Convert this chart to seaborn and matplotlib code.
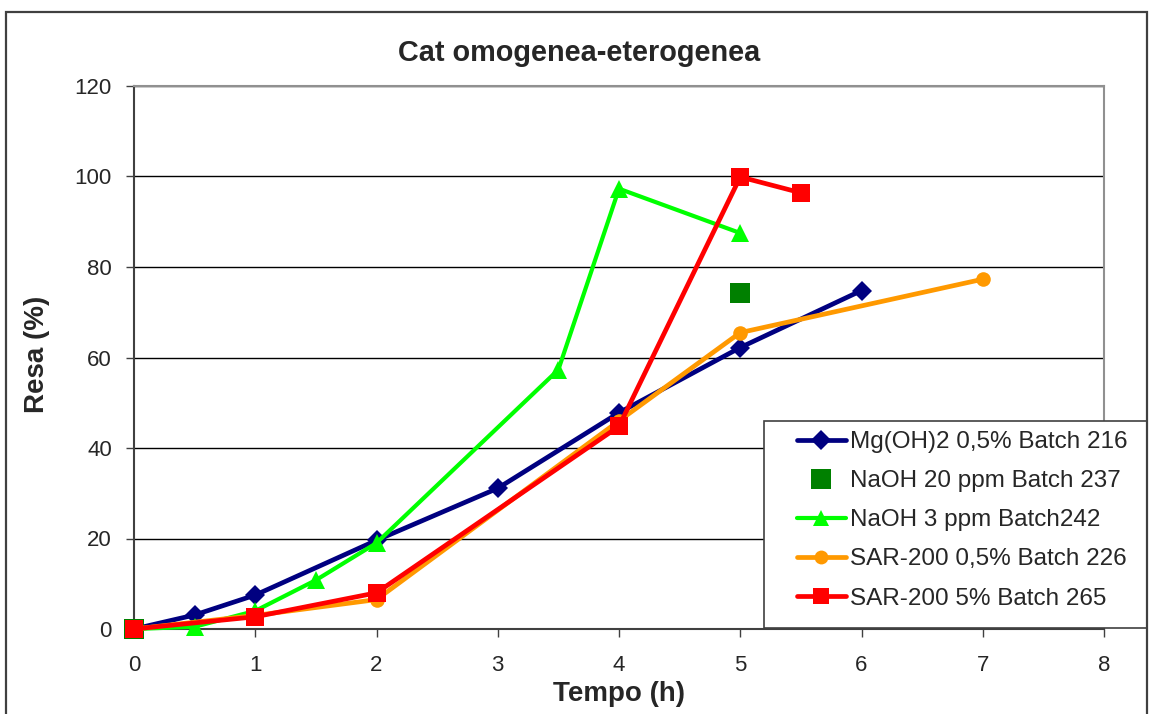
import matplotlib
matplotlib.use("Agg")
import matplotlib.pyplot as plt
import seaborn as sns
import pandas as pd
from matplotlib.lines import Line2D

# Reaction yield over time for each catalyst batch
mg_t = [0, 0.5, 1, 2, 3, 4, 5, 6]
mg_y = [0, 3.1, 7.5, 19.6, 31.1, 47.8, 62.2, 74.8]

naoh20_t = [0, 5]
naoh20_y = [0, 74.3]

naoh3_t = [0, 0.5, 1, 1.5, 2, 3.5, 4, 5]
naoh3_y = [0, 0.5, 4.0, 10.8, 19.0, 57.3, 97.3, 87.5]

sar05_t = [0, 1, 2, 4, 5, 7]
sar05_y = [0, 3.0, 6.5, 46.0, 65.5, 77.3]

sar5_t = [0, 1, 2, 4, 5, 5.5]
sar5_y = [0, 2.7, 8.0, 44.8, 99.9, 96.4]

labels = ["Mg(OH)2 0,5% Batch 216", "NaOH 20 ppm Batch 237", "NaOH 3 ppm Batch242",
          "SAR-200 0,5% Batch 226", "SAR-200 5% Batch 265"]
x_ticks = [0, 1, 2, 3, 4, 5, 6, 7, 8]
y_ticks = [0, 20, 40, 60, 80, 100, 120]

sns.set_theme(style="white")
plt.rcParams["font.family"] = ["Liberation Sans", "DejaVu Sans"]

W, H = 1149, 714
fig = plt.figure(figsize=(W / 100, H / 100), dpi=100)
ax = fig.add_axes([134 / W, (H - 629) / H, 970 / W, 543 / H])

# outer chart frame
frame = plt.Rectangle((6 / W, -0.05), (1147 - 6) / W, (H - 12) / H + 0.05,
                      transform=fig.transFigure, fill=False, edgecolor="#404040",
                      linewidth=1.6, zorder=0)
fig.patches.append(frame)

styles = [
    dict(color="#000080", marker="D", markersize=10.5, linewidth=3.4),
    dict(color="#008000", marker="s", markersize=15, linewidth=0),
    dict(color="#00FF00", marker="^", markersize=12.5, linewidth=3),
    dict(color="#FF9900", marker="o", markersize=10.5, linewidth=3.4),
    dict(color="#FF0000", marker="s", markersize=12.8, linewidth=3.4),
]
series = [(mg_t, mg_y), (naoh20_t, naoh20_y), (naoh3_t, naoh3_y),
          (sar05_t, sar05_y), (sar5_t, sar5_y)]

for i, ((t, y), st) in enumerate(zip(series, styles)):
    df = pd.DataFrame({"t": t, "y": y})
    if st["linewidth"] == 0:
        sns.scatterplot(data=df, x="t", y="y", ax=ax, color=st["color"], marker="s",
                        s=st["markersize"] ** 2, edgecolor=st["color"], linewidth=0,
                        zorder=3 + i, legend=False, clip_on=False)
    else:
        sns.lineplot(data=df, x="t", y="y", ax=ax, color=st["color"], marker=st["marker"],
                     markersize=st["markersize"], markeredgewidth=0,
                     linewidth=st["linewidth"], estimator=None, sort=False,
                     zorder=3 + i, legend=False, clip_on=False)

ax.set_xlim(0, 8)
ax.set_ylim(0, 120)
ax.set_xticks(x_ticks)
ax.set_yticks(y_ticks)
ax.tick_params(axis="both", labelsize=16, direction="out", length=5.5, width=1,
               color="#404040", left=True, bottom=True)
ax.tick_params(axis="x", pad=13)
ax.tick_params(axis="y", pad=10.5)

ax.yaxis.grid(True, color="black", linewidth=1)
ax.xaxis.grid(False)
ax.set_axisbelow(True)
for side in ["left", "bottom"]:
    ax.spines[side].set_color("#404040")
    ax.spines[side].set_linewidth(1.5)
for side in ["top", "right"]:
    ax.spines[side].set_color("#909090")
    ax.spines[side].set_linewidth(1.5)

ax.set_xlabel("Tempo (h)", fontsize=20, fontweight="bold")
ax.set_ylabel("Resa (%)", fontsize=20, fontweight="bold")
ax.xaxis.set_label_coords(0.5, -0.096)
ax.yaxis.set_label_coords(-0.0866, 0.505)
fig.text(579 / W, 1 - 53 / H, "Cat omogenea-eterogenea", fontsize=20.75,
         fontweight="bold", ha="center", va="center")

# legend box and entries
box = plt.Rectangle(((764 - 134) / 970, 0.002), (1147 - 764) / 970, (628 - 421) / 543,
                    transform=ax.transAxes, fill=True, facecolor="white",
                    edgecolor="#404040", linewidth=1.2, clip_on=False, zorder=19)
ax.add_patch(box)

handles = []
for st, lab in zip(styles, labels):
    handles.append(Line2D([], [], color=st["color"], marker=st["marker"],
                          markersize=st["markersize"] * 0.95, markeredgewidth=0,
                          linewidth=st["linewidth"], label=lab))
leg = ax.legend(handles=handles, loc="upper left",
                bbox_to_anchor=((797 - 134) / 970, (629 - 431) / 543),
                fontsize=17.5, frameon=False, borderpad=0, labelspacing=0.705,
                handlelength=2.0, handletextpad=0.2, borderaxespad=0)
leg.set_zorder(20)

fig.savefig("out.png", dpi=100)
